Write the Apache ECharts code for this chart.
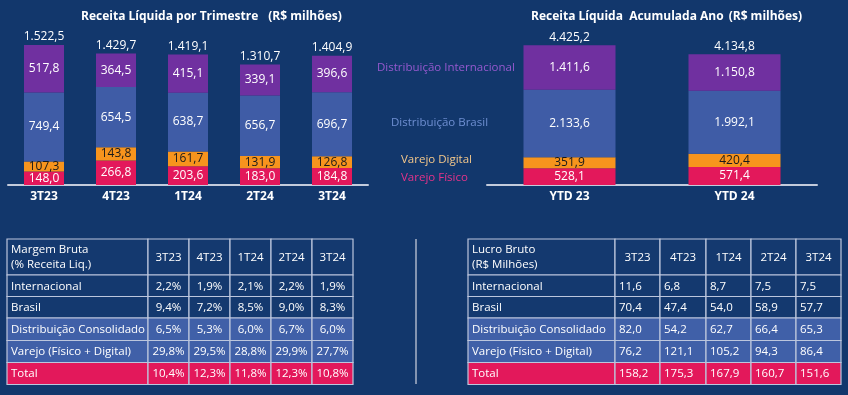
<!DOCTYPE html>
<html><head><meta charset="utf-8">
<script src="https://cdn.jsdelivr.net/npm/echarts@6/dist/echarts.min.js"></script>
<style>html,body{margin:0;padding:0;background:#12376c;}#c{width:848px;height:395px;}</style>
</head><body><div id="c"></div><script>
// ---------- DATA ----------
const quarters = ['3T23','4T23','1T24','2T24','3T24'];
const varejoFisico = [148.0, 266.8, 203.6, 183.0, 184.8];
const varejoDigital = [107.3, 143.8, 161.7, 131.9, 126.8];
const distBrasil = [749.4, 654.5, 638.7, 656.7, 696.7];
const distIntl = [517.8, 364.5, 415.1, 339.1, 396.6];
const quarterTotals = [1522.5, 1429.7, 1419.1, 1310.7, 1404.9];

const ytdCategories = ['YTD 23','YTD 24'];
const ytdFisico = [528.1, 571.4];
const ytdDigital = [351.9, 420.4];
const ytdBrasil = [2133.6, 1992.1];
const ytdIntl = [1411.6, 1150.8];
const ytdTotals = [4425.2, 4134.8];

const seriesNames = ['Varejo Físico','Varejo Digital','Distribuição Brasil','Distribuição Internacional'];

const tableRowLabels = ['Internacional','Brasil','Distribuição Consolidado','Varejo (Físico + Digital)','Total'];
const marginHeader = 'Margem Bruta\n(% Receita Liq.)';
const marginIntl = [2.2, 1.9, 2.1, 2.2, 1.9];
const marginBrasil = [9.4, 7.2, 8.5, 9.0, 8.3];
const marginConsol = [6.5, 5.3, 6.0, 6.7, 6.0];
const marginVarejo = [29.8, 29.5, 28.8, 29.9, 27.7];
const marginTotal = [10.4, 12.3, 11.8, 12.3, 10.8];

const lucroHeader = 'Lucro Bruto\n(R$ Milhões)';
const lucroIntl = [11.6, 6.8, 8.7, 7.5, 7.5];
const lucroBrasil = [70.4, 47.4, 54.0, 58.9, 57.7];
const lucroConsol = [82.0, 54.2, 62.7, 66.4, 65.3];
const lucroVarejo = [76.2, 121.1, 105.2, 94.3, 86.4];
const lucroTotal = [158.2, 175.3, 167.9, 160.7, 151.6];

// ---------- STYLE ----------
const BG = '#12376c';
const C_FIS = '#e3185b', C_DIG = '#f7941d', C_BR = '#3f5ca6', C_INT = '#7030a0';
const FONT = '"Open Sans", "DejaVu Sans", sans-serif';

function fmt(v){
  const s = v.toFixed(1).split('.');
  return s[0].replace(/\B(?=(\d{3})+(?!\d))/g, '.') + ',' + s[1];
}

function segLabel(color){
  return {show:true, position:'inside', color:color, fontFamily:FONT, fontSize:12,
          formatter:p=>fmt(p.value)};
}

function stackSeries(xi, arrs, barWidth, totals, stackName){
  const colors=[C_FIS,C_DIG,C_BR,C_INT];
  const labColors=['#ffffff','#1a1a1a','#ffffff','#ffffff'];
  const out = arrs.map((a,i)=>({
    type:'bar', name:seriesNames[i], xAxisIndex:xi, yAxisIndex:xi, stack:stackName,
    barWidth:barWidth, data:a, itemStyle:{color:colors[i]}, label:segLabel(labColors[i]),
    emphasis:{disabled:true}, z:2
  }));
  out.push({
    type:'bar', xAxisIndex:xi, yAxisIndex:xi, barWidth:barWidth, barGap:'-100%',
    data:totals, itemStyle:{color:'rgba(0,0,0,0)'}, z:1, silent:true,
    label:{show:true, position:'top', distance:2, color:'#ffffff', fontFamily:FONT, fontSize:12,
           formatter:p=>fmt(p.value)}
  });
  return out;
}

// ---------- TABLES ----------
function buildTable(header, rows, valueFmt, colW, rowH, valueAlign){
  const xe=[0]; colW.forEach(w=>xe.push(xe[xe.length-1]+w));
  const ye=[0]; rowH.forEach(h=>ye.push(ye[ye.length-1]+h));
  const cells=[];
  cells.push({col:0,row:0,text:header,align:'left'});
  quarters.forEach((q,j)=>cells.push({col:j+1,row:0,text:q,align:'center'}));
  rows.forEach((arr,i)=>{
    cells.push({col:0,row:i+1,text:tableRowLabels[i],align:'left'});
    arr.forEach((v,j)=>cells.push({col:j+1,row:i+1,text:valueFmt(v),align:valueAlign}));
  });
  return {xe, ye, cells};
}
const rowFills = ['#14396f','#14396f','#14396f','#4060a8','#4060a8','#e3185b'];

function tableSeries(tbl, idx){
  return {
    type:'custom', xAxisIndex:idx, yAxisIndex:idx, clip:false, silent:true,
    data: tbl.cells.map(c=>[(tbl.xe[c.col]+tbl.xe[c.col+1])/2,(tbl.ye[c.row]+tbl.ye[c.row+1])/2]),
    renderItem:(params, api)=>{
      const c = tbl.cells[params.dataIndex];
      const p0 = api.coord([tbl.xe[c.col], tbl.ye[c.row]]);
      const p1 = api.coord([tbl.xe[c.col+1], tbl.ye[c.row+1]]);
      const x = Math.min(p0[0],p1[0]), y = Math.min(p0[1],p1[1]);
      const w = Math.abs(p1[0]-p0[0]), h = Math.abs(p1[1]-p0[1]);
      return {type:'group', children:[
        {type:'rect', shape:{x:x,y:y,width:w,height:h},
         style:{fill:rowFills[c.row], stroke:'#bcc6dd', lineWidth:1.2}},
        {type:'text', style:{text:c.text, x: c.align==='center'? x+w/2 : x+4, y:y+h/2+0.5,
          align:c.align, verticalAlign:'middle', fill:'#ffffff', fontFamily:FONT, fontSize:11.5, lineHeight:15}}
      ]};
    }
  };
}

const pct = v=>v.toFixed(1).replace('.',',')+'%';
const num = v=>fmt(v);
const rowHeights = [36,21.5,21.5,22.5,22,22];
const leftTbl = buildTable(marginHeader,[marginIntl,marginBrasil,marginConsol,marginVarejo,marginTotal],pct,[141,41,41,41,41,41],rowHeights,'center');
const rightTbl = buildTable(lucroHeader,[lucroIntl,lucroBrasil,lucroConsol,lucroVarejo,lucroTotal],num,[147,45,46,45,45,45],rowHeights,'left');

const tblH = rowHeights.reduce((a,b)=>a+b,0);

function catAxis(gi, cats){
  return {type:'category', gridIndex:gi, data:cats,
    axisLine:{lineStyle:{color:'#c3cbdc', width:2}}, axisTick:{show:false},
    axisLabel:{color:'#ffffff', fontFamily:FONT, fontSize:12, fontWeight:'bold', margin:6}};
}
function valAxis(gi, max){
  return {type:'value', gridIndex:gi, min:0, max:max, show:false, splitLine:{show:false}};
}

const chart = echarts.init(document.getElementById('c'), null, {renderer:'canvas'});
chart.setOption({
  backgroundColor: BG,
  animation:false,
  title:[
    {text:'{b|Receita Líquida por Trimestre}  {n|(R$ milhões)}', left:76, top:3,
     textStyle:{rich:{b:{color:'#fff',fontFamily:FONT,fontSize:12,fontWeight:'bold'},n:{color:'#fff',fontFamily:FONT,fontSize:12}}}},
    {text:'{b|Receita Líquida  Acumulada Ano} {n|(R$ milhões)}', left:526, top:3,
     textStyle:{rich:{b:{color:'#fff',fontFamily:FONT,fontSize:12,fontWeight:'bold'},n:{color:'#fff',fontFamily:FONT,fontSize:12}}}}
  ],
  grid:[
    {left:8, top:1, width:360, height:184},
    {left:487, top:27, width:330, height:158},
    {left:7, top:239, width:346, height:tblH},
    {left:468, top:239, width:373, height:tblH}
  ],
  xAxis:[
    catAxis(0, quarters),
    catAxis(1, ytdCategories),
    {type:'value', gridIndex:2, min:0, max:leftTbl.xe[leftTbl.xe.length-1], show:false},
    {type:'value', gridIndex:3, min:0, max:rightTbl.xe[rightTbl.xe.length-1], show:false}
  ],
  yAxis:[
    valAxis(0, 2000),
    valAxis(1, 5000),
    {type:'value', gridIndex:2, min:0, max:tblH, inverse:true, show:false},
    {type:'value', gridIndex:3, min:0, max:tblH, inverse:true, show:false}
  ],
  graphic:[
    {type:'text', left:377, top:62, style:{text:seriesNames[3], fill:'#9659cf', fontFamily:FONT, fontSize:11.5}},
    {type:'text', left:391, top:117, style:{text:seriesNames[2], fill:'#6f8fd2', fontFamily:FONT, fontSize:11.5}},
    {type:'text', left:401, top:154, style:{text:seriesNames[1], fill:'#f5c88a', fontFamily:FONT, fontSize:11.5}},
    {type:'text', left:401, top:172, style:{text:seriesNames[0], fill:'#e6338a', fontFamily:FONT, fontSize:11.5}},
    {type:'line', shape:{x1:416, y1:239, x2:416, y2:384}, style:{stroke:'#aab4c8', lineWidth:1.5}}
  ],
  series:[
    ...stackSeries(0,[varejoFisico,varejoDigital,distBrasil,distIntl],40,quarterTotals,'q'),
    ...stackSeries(1,[ytdFisico,ytdDigital,ytdBrasil,ytdIntl],92,ytdTotals,'y'),
    tableSeries(leftTbl,2),
    tableSeries(rightTbl,3)
  ]
});
</script></body></html>
